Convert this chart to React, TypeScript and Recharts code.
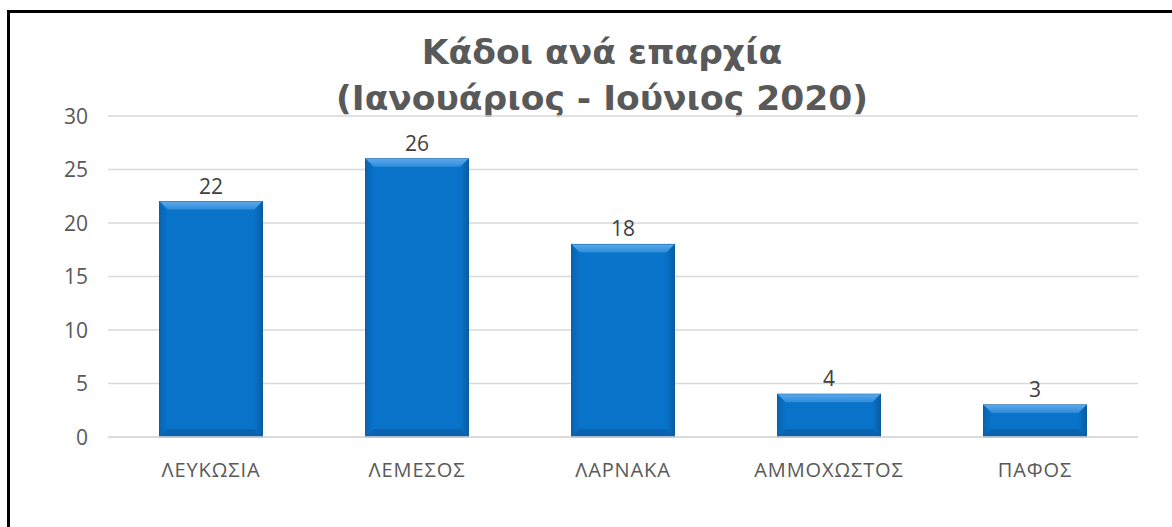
import { BarChart, Bar, XAxis, YAxis, CartesianGrid, LabelList } from 'recharts'

const districts = ['ΛΕΥΚΩΣΙΑ', 'ΛΕΜΕΣΟΣ', 'ΛΑΡΝΑΚΑ', 'ΑΜΜΟΧΩΣΤΟΣ', 'ΠΑΦΟΣ']
const bins = [22, 26, 18, 4, 3]
const yTicks = [0, 5, 10, 15, 20, 25, 30]

const data = districts.map((name, i) => ({ name, bins: bins[i] }))

const FONT = '"Open Sans", "Noto Sans", sans-serif'

// bar with a bevelled look, like the office 3d style
function BevelBar(props: any) {
  const { x, y, width, height } = props
  if (!height || height <= 0) return null
  const b = Math.min(8, height / 2)
  return (
    <g>
      <rect x={x} y={y} width={width} height={height} fill="#0873C9" stroke="#0A5CA3" strokeWidth={1} />
      <polygon points={`${x},${y} ${x + width},${y} ${x + width - b},${y + b} ${x + b},${y + b}`} fill="url(#bevTop)" />
      <polygon points={`${x},${y} ${x + b},${y + b} ${x + b},${y + height - b} ${x},${y + height}`} fill="url(#bevLeft)" />
      <polygon points={`${x + width},${y} ${x + width - b},${y + b} ${x + width - b},${y + height - b} ${x + width},${y + height}`} fill="url(#bevRight)" />
      <polygon points={`${x},${y + height} ${x + b},${y + height - b} ${x + width - b},${y + height - b} ${x + width},${y + height}`} fill="#0B62AE" />
    </g>
  )
}

function XTick({ x, y, payload }: any) {
  return (
    <text x={x} y={y + 34} textAnchor="middle" fill="#595959" fontSize={20} fontFamily={FONT} letterSpacing={0.9}>
      {payload.value}
    </text>
  )
}

function YTick({ x, y, payload }: any) {
  return (
    <text x={x - 14} y={y + 7.5} textAnchor="end" fill="#595959" fontSize={21} fontFamily={FONT}>
      {payload.value}
    </text>
  )
}

export default function App() {
  return (
    <div style={{ position: 'fixed', left: 0, top: 0, width: 1172, height: 527, background: '#fff', overflow: 'hidden' }}>
      <div style={{ position: 'absolute', left: 7, top: 10, width: 1200, height: 560, borderLeft: '3px solid #000', borderTop: '3px solid #000' }} />
      <div
        style={{
          position: 'absolute',
          left: 0,
          top: 29,
          width: 1204,
          textAlign: 'center',
          fontFamily: '"DejaVu Sans", Verdana, sans-serif',
          fontWeight: 'bold',
          fontSize: 34.5,
          lineHeight: '46px',
          color: '#595959',
        }}
      >
        <div>Κάδοι ανά επαρχία</div>
        <div>(Ιανουάριος - Ιούνιος 2020)</div>
      </div>
      <div style={{ position: 'absolute', left: 0, top: 0 }}>
        <BarChart width={1172} height={527} data={data} margin={{ top: 116, right: 34, bottom: 60, left: 48 }} barCategoryGap="25%">
          <defs>
            <linearGradient id="bevTop" x1="0" y1="0" x2="0" y2="1">
              <stop offset="0%" stopColor="#5AA9EC" />
              <stop offset="100%" stopColor="#2F8BDB" />
            </linearGradient>
            <linearGradient id="bevLeft" x1="0" y1="0" x2="1" y2="0">
              <stop offset="0%" stopColor="#0A63B2" />
              <stop offset="100%" stopColor="#0873C9" />
            </linearGradient>
            <linearGradient id="bevRight" x1="0" y1="0" x2="1" y2="0">
              <stop offset="0%" stopColor="#0873C9" />
              <stop offset="100%" stopColor="#0A5CA3" />
            </linearGradient>
          </defs>
          <CartesianGrid vertical={false} stroke="#D9D9D9" strokeWidth={1.5} />
          <XAxis
            dataKey="name"
            axisLine={{ stroke: '#D9D9D9', strokeWidth: 1.5 }}
            tickLine={false}
            tickMargin={0}
            height={30}
            tick={<XTick />}
          />
          <YAxis
            domain={[0, 30]}
            ticks={yTicks}
            axisLine={false}
            tickLine={false}
            tickMargin={0}
            width={60}
            tick={<YTick />}
          />
          <Bar dataKey="bins" shape={<BevelBar />} isAnimationActive={false}>
            <LabelList dataKey="bins" position="top" offset={8} fill="#404040" fontSize={21} fontFamily={FONT} />
          </Bar>
        </BarChart>
      </div>
    </div>
  )
}
